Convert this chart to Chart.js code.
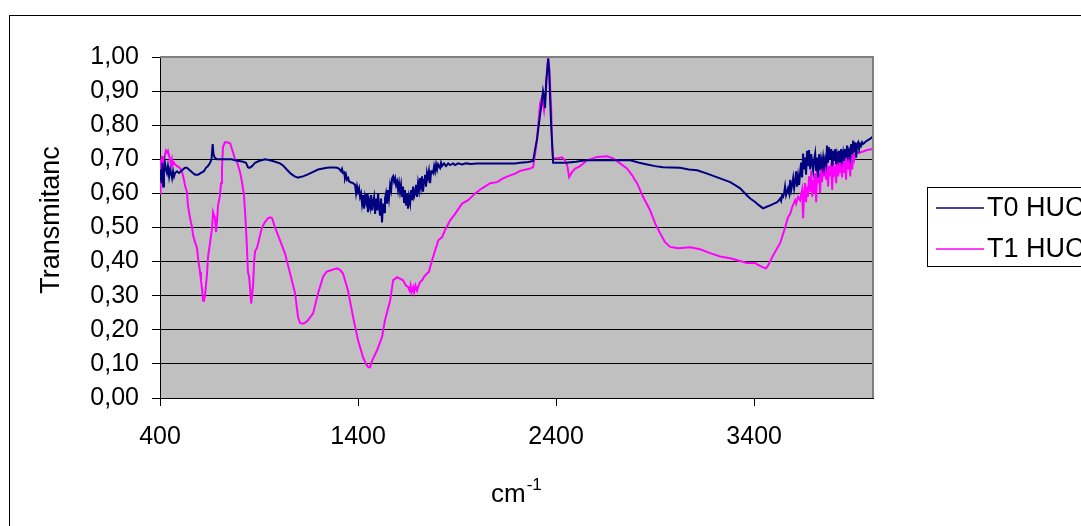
<!DOCTYPE html>
<html>
<head>
<meta charset="utf-8">
<script src="https://cdn.jsdelivr.net/npm/chart.js@4/dist/chart.umd.min.js"></script>
<style>
  body { margin: 0; background: #fff; }
  #wrap { width: 1081px; height: 526px; position: relative; }
</style>
</head>
<body>
<div id="wrap"><canvas id="chart"></canvas></div>
<script>
// wavenumbers (cm-1) and transmittance
var t0Wn = [400,405,408,412,416,420,425,430,435,440,446,451,456,461,466,471,476,486,496,506,516,526,536,546,556,566,577,592,607,622,632,642,653,660,666,670,676,688,713,738,760,779,800,820,834,844,852,865,880,900,930,956,981,1006,1021,1040,1060,1080,1097,1107,1122,1147,1173,1198,1223,1243,1260,1280,1294,1305,1314,1319,1324,1330,1334,1339,1344,1350,1355,1365,1375,1385,1390,1395,1400,1405,1410,1415,1420,1425,1430,1435,1440,1445,1450,1455,1461,1466,1471,1476,1481,1486,1491,1496,1501,1506,1511,1516,1521,1526,1531,1536,1541,1546,1551,1556,1562,1567,1572,1577,1582,1587,1592,1597,1602,1607,1612,1617,1622,1627,1632,1637,1642,1647,1652,1657,1663,1668,1673,1678,1683,1688,1693,1698,1703,1708,1713,1718,1723,1728,1733,1738,1743,1748,1753,1758,1764,1769,1774,1779,1784,1789,1794,1799,1804,1814,1819,1824,1834,1844,1855,1865,1880,1890,1905,1925,1945,1970,2000,2050,2100,2150,2193,2218,2260,2284,2294,2304,2309,2319,2329,2334,2340,2344,2350,2355,2360,2365,2370,2375,2380,2385,2400,2450,2500,2550,2600,2650,2700,2774,2820,2860,2900,2940,2980,3026,3070,3112,3163,3200,3228,3279,3310,3329,3364,3380,3405,3420,3445,3460,3481,3500,3516,3525,3531,3536,3541,3546,3551,3556,3561,3566,3571,3577,3582,3587,3592,3597,3602,3607,3612,3617,3622,3627,3632,3637,3642,3647,3652,3657,3662,3667,3672,3677,3683,3688,3693,3698,3703,3708,3713,3718,3723,3728,3733,3738,3743,3748,3753,3758,3763,3768,3773,3778,3784,3789,3794,3799,3804,3809,3814,3819,3824,3829,3834,3839,3844,3849,3854,3859,3864,3869,3874,3879,3885,3890,3895,3900,3905,3910,3915,3920,3925,3930,3935,3940,3945,3950,3960,3970,3985,4000];
var t0Val = [0.64,0.67,0.63,0.69,0.62,0.66,0.69,0.67,0.66,0.68,0.65,0.67,0.66,0.645,0.665,0.65,0.66,0.665,0.66,0.665,0.67,0.675,0.675,0.67,0.665,0.66,0.655,0.655,0.66,0.665,0.675,0.68,0.69,0.70,0.745,0.715,0.705,0.70,0.70,0.70,0.70,0.697,0.695,0.693,0.69,0.677,0.675,0.68,0.69,0.695,0.70,0.697,0.693,0.688,0.682,0.67,0.658,0.65,0.646,0.648,0.65,0.656,0.663,0.67,0.673,0.675,0.676,0.676,0.675,0.672,0.665,0.672,0.66,0.662,0.645,0.655,0.64,0.645,0.635,0.632,0.63,0.625,0.60,0.62,0.605,0.615,0.59,0.60,0.57,0.595,0.555,0.59,0.575,0.60,0.545,0.58,0.56,0.595,0.55,0.575,0.59,0.54,0.585,0.55,0.60,0.56,0.535,0.585,0.515,0.57,0.545,0.585,0.60,0.57,0.61,0.585,0.625,0.61,0.645,0.65,0.635,0.645,0.625,0.635,0.61,0.63,0.605,0.625,0.59,0.62,0.575,0.61,0.565,0.60,0.555,0.59,0.57,0.61,0.58,0.62,0.59,0.60,0.625,0.59,0.63,0.61,0.645,0.62,0.65,0.605,0.64,0.655,0.62,0.66,0.645,0.665,0.63,0.665,0.665,0.66,0.68,0.665,0.685,0.67,0.685,0.675,0.69,0.68,0.688,0.68,0.688,0.683,0.688,0.683,0.688,0.685,0.688,0.686,0.688,0.688,0.688,0.688,0.688,0.69,0.692,0.695,0.73,0.76,0.785,0.83,0.873,0.90,0.88,0.85,0.93,0.96,0.995,0.96,0.873,0.80,0.745,0.69,0.69,0.69,0.693,0.697,0.697,0.697,0.697,0.697,0.69,0.685,0.68,0.677,0.676,0.675,0.67,0.668,0.658,0.65,0.644,0.633,0.622,0.615,0.594,0.585,0.575,0.567,0.556,0.56,0.565,0.57,0.574,0.58,0.585,0.578,0.594,0.59,0.60,0.62,0.595,0.605,0.615,0.60,0.64,0.61,0.625,0.645,0.615,0.635,0.665,0.62,0.65,0.625,0.66,0.69,0.647,0.717,0.67,0.705,0.655,0.725,0.68,0.727,0.67,0.715,0.69,0.667,0.70,0.717,0.665,0.705,0.647,0.715,0.67,0.70,0.68,0.705,0.676,0.70,0.685,0.74,0.69,0.735,0.70,0.73,0.68,0.725,0.695,0.73,0.685,0.715,0.70,0.725,0.69,0.73,0.70,0.72,0.695,0.73,0.705,0.74,0.71,0.725,0.705,0.745,0.715,0.755,0.72,0.75,0.705,0.745,0.75,0.73,0.745,0.74,0.75,0.745,0.75,0.755,0.76,0.767];

var t1Wn = [400,403,407,410,415,420,430,435,440,446,451,456,461,466,471,476,486,496,506,511,521,526,536,541,552,562,567,577,587,592,602,607,612,617,622,627,632,637,642,653,663,668,673,678,683,688,693,703,708,713,718,728,738,754,769,779,789,804,814,824,829,834,839,844,850,855,860,865,870,875,880,890,905,915,930,945,956,966,981,1006,1031,1057,1082,1097,1107,1122,1135,1147,1173,1198,1223,1240,1259,1280,1294,1310,1324,1349,1375,1400,1425,1440,1451,1461,1471,1496,1521,1536,1562,1577,1597,1612,1627,1642,1652,1660,1665,1670,1678,1683,1690,1698,1703,1713,1723,1733,1748,1758,1764,1774,1789,1799,1804,1824,1839,1865,1890,1925,1956,1991,2026,2067,2102,2132,2168,2193,2218,2269,2284,2299,2309,2319,2329,2339,2349,2355,2360,2365,2375,2380,2385,2410,2430,2445,2456,2466,2481,2496,2521,2557,2607,2658,2688,2723,2758,2784,2799,2809,2839,2875,2900,2925,2950,2976,3016,3077,3127,3178,3228,3279,3329,3364,3405,3415,3445,3460,3471,3491,3516,3531,3541,3551,3561,3571,3582,3592,3607,3612,3622,3632,3642,3647,3652,3657,3662,3667,3672,3677,3683,3688,3693,3698,3703,3708,3713,3718,3723,3728,3733,3738,3743,3748,3753,3758,3763,3768,3773,3778,3784,3789,3794,3799,3804,3809,3814,3819,3824,3829,3834,3839,3844,3849,3854,3859,3864,3869,3874,3879,3885,3890,3895,3900,3905,3910,3920,3935,3950,3970,4000];
var t1Val = [0.60,0.70,0.64,0.71,0.69,0.70,0.725,0.72,0.725,0.71,0.70,0.68,0.70,0.685,0.69,0.685,0.68,0.677,0.67,0.663,0.64,0.624,0.604,0.565,0.527,0.50,0.477,0.457,0.439,0.41,0.37,0.345,0.32,0.286,0.285,0.30,0.33,0.36,0.41,0.457,0.50,0.545,0.535,0.527,0.486,0.52,0.565,0.594,0.63,0.674,0.736,0.75,0.75,0.747,0.72,0.70,0.692,0.663,0.633,0.594,0.55,0.50,0.44,0.37,0.355,0.32,0.277,0.30,0.33,0.40,0.43,0.44,0.477,0.50,0.516,0.527,0.53,0.527,0.50,0.462,0.424,0.365,0.307,0.237,0.22,0.218,0.222,0.228,0.248,0.307,0.355,0.37,0.374,0.378,0.38,0.375,0.365,0.316,0.237,0.169,0.12,0.10,0.091,0.09,0.11,0.14,0.179,0.228,0.286,0.345,0.354,0.35,0.345,0.33,0.326,0.315,0.33,0.31,0.325,0.31,0.33,0.315,0.325,0.34,0.345,0.355,0.365,0.37,0.384,0.404,0.433,0.45,0.462,0.472,0.492,0.521,0.54,0.57,0.58,0.60,0.615,0.63,0.633,0.644,0.653,0.658,0.666,0.673,0.677,0.736,0.795,0.863,0.883,0.844,0.902,0.97,0.995,0.97,0.853,0.736,0.703,0.703,0.706,0.697,0.682,0.648,0.663,0.673,0.68,0.697,0.707,0.709,0.703,0.688,0.673,0.653,0.638,0.63,0.59,0.55,0.512,0.483,0.457,0.443,0.439,0.442,0.436,0.425,0.415,0.41,0.402,0.396,0.396,0.392,0.383,0.38,0.389,0.413,0.439,0.454,0.472,0.49,0.51,0.53,0.54,0.56,0.58,0.57,0.59,0.58,0.61,0.527,0.60,0.63,0.574,0.62,0.59,0.65,0.605,0.667,0.59,0.64,0.60,0.66,0.574,0.676,0.63,0.66,0.60,0.68,0.633,0.69,0.65,0.675,0.64,0.697,0.62,0.68,0.65,0.69,0.61,0.70,0.66,0.67,0.63,0.703,0.65,0.69,0.66,0.706,0.647,0.70,0.66,0.71,0.64,0.717,0.67,0.705,0.65,0.715,0.67,0.72,0.70,0.715,0.72,0.72,0.723,0.727,0.73];

var seriesNames = ["T0 HUC", "T1 HUC"];
var seriesColors = ["#000080", "#FF00FF"];
var xTicks = [400, 1400, 2400, 3400];
var yTitle = "Transmitanc";

function pts(xs, ys) {
  return xs.map(function (x, i) { return { x: x, y: ys[i] }; });
}

Chart.defaults.font.family = "'Liberation Sans', Arial, sans-serif";
Chart.defaults.color = "#000";

// grey plot area, frame, custom legend and axis titles
var excelLook = {
  id: "excelLook",
  beforeDraw: function (chart) {
    var ctx = chart.ctx, a = chart.chartArea;
    ctx.save();
    ctx.fillStyle = "#C0C0C0";
    ctx.fillRect(a.left, a.top, a.right - a.left, a.bottom - a.top);
    ctx.restore();
  },
  afterDraw: function (chart) {
    var ctx = chart.ctx, a = chart.chartArea;
    ctx.save();
    // plot border top and right
    ctx.strokeStyle = "#808080";
    ctx.lineWidth = 2;
    ctx.beginPath();
    ctx.moveTo(a.left, a.top);
    ctx.lineTo(a.right, a.top);
    ctx.lineTo(a.right, a.bottom);
    ctx.stroke();

    // outer frame
    ctx.strokeStyle = "#000";
    ctx.lineWidth = 1;
    ctx.strokeRect(9.5, 15.5, 1300, 700);

    // legend
    ctx.strokeRect(927.5, 187.5, 300, 79);
    ctx.font = "27px 'Liberation Sans', Arial";
    ctx.textBaseline = "middle";
    ctx.textAlign = "left";
    var rows = [208, 249];
    chart.data.datasets.forEach(function (ds, i) {
      ctx.strokeStyle = ds.borderColor;
      ctx.lineWidth = 1.5;
      ctx.beginPath();
      ctx.moveTo(936, rows[i]);
      ctx.lineTo(984, rows[i]);
      ctx.stroke();
      ctx.fillStyle = "#000";
      ctx.fillText(ds.label, 987, rows[i] + 1);
    });

    // y title
    ctx.save();
    ctx.translate(52, 220);
    ctx.rotate(-Math.PI / 2);
    ctx.textAlign = "center";
    ctx.fillText(yTitle, 0, 0);
    ctx.restore();

    // x title cm-1
    ctx.textAlign = "left";
    ctx.textBaseline = "alphabetic";
    ctx.font = "26px 'Liberation Sans', Arial";
    ctx.fillText("cm", 491, 502);
    var w = ctx.measureText("cm").width;
    ctx.font = "17px 'Liberation Sans', Arial";
    ctx.fillText("-1", 491 + w + 1, 490);
    ctx.restore();
  }
};

new Chart(document.getElementById("chart"), {
  type: "line",
  data: {
    datasets: [
      { label: seriesNames[0], data: pts(t0Wn, t0Val), borderColor: seriesColors[0], borderWidth: 2, pointRadius: 0, tension: 0 },
      { label: seriesNames[1], data: pts(t1Wn, t1Val), borderColor: seriesColors[1], borderWidth: 2, pointRadius: 0, tension: 0 }
    ]
  },
  options: {
    responsive: true,
    maintainAspectRatio: false,
    animation: false,
    layout: { padding: { left: 0, top: 57, right: 208, bottom: 0 } },
    plugins: { legend: { display: false }, tooltip: { enabled: false } },
    scales: {
      x: {
        type: "linear",
        min: 400,
        max: 4000,
        afterBuildTicks: function (s) { s.ticks = xTicks.map(function (v) { return { value: v }; }); },
        afterFit: function (s) { s.height = 128; },
        ticks: {
          font: { size: 25 }, padding: 16, maxRotation: 0, autoSkip: false,
          callback: function (v) { return String(v); }
        },
        grid: { drawOnChartArea: false, color: "#000", tickLength: 8 },
        border: { color: "#000", width: 1 }
      },
      y: {
        min: 0,
        max: 1,
        afterFit: function (s) { s.width = 160; },
        ticks: {
          stepSize: 0.1,
          font: { size: 25 },
          padding: 13,
          callback: function (v) { return v.toFixed(2).replace(".", ","); }
        },
        grid: { color: "#000", tickLength: 8 },
        border: { color: "#000", width: 1 }
      }
    }
  },
  plugins: [excelLook]
});
</script>
</body>
</html>
